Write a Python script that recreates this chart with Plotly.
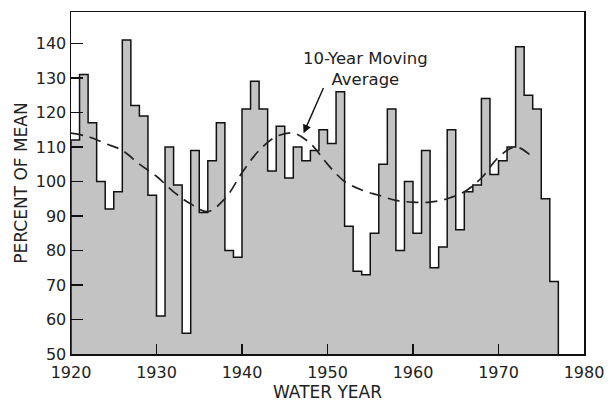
import plotly.graph_objects as go

# Water years (left edge of each annual bar) and percent of mean
years = list(range(1920, 1977))
percent = [112, 131, 117, 100, 92, 97, 141, 122, 119, 96,
           61, 110, 99, 56, 109, 91, 106, 117, 80, 78,
           121, 129, 121, 103, 116, 101, 110, 106, 109, 115,
           111, 126, 87, 74, 73, 85, 105, 121, 80, 100,
           85, 109, 75, 81, 115, 86, 97, 99, 124, 102,
           106, 110, 139, 125, 121, 95, 71]

# 10-year moving average
ma_years = [1920, 1922, 1924, 1926, 1928, 1930, 1932, 1934, 1936, 1938,
            1940, 1942, 1944, 1946, 1948, 1950, 1952, 1954, 1956, 1958,
            1960, 1962, 1964, 1966, 1968, 1970, 1972, 1974]
ma_values = [114, 113, 111, 109, 105, 101.5, 97, 93.5, 91.3, 95,
             102.5, 109, 113, 114, 111, 105, 100, 97.5, 96, 94.5,
             94, 94, 95, 97, 101, 107, 110, 107]

x_ticks = [1920, 1930, 1940, 1950, 1960, 1970, 1980]
y_ticks = [50, 60, 70, 80, 90, 100, 110, 120, 130, 140]

base = 50
end_year = years[-1] + 1
step_x = [years[0]] + years + [end_year, end_year]
step_y = [base] + percent + [percent[-1], base]

fig = go.Figure()
fig.add_trace(go.Scatter(
    x=step_x, y=step_y, mode="lines", line_shape="hv",
    line=dict(color="#111111", width=1.5),
    fill="toself", fillcolor="#c3c3c3",
    hoverinfo="skip", showlegend=False))
fig.add_trace(go.Scatter(
    x=ma_years, y=ma_values, mode="lines", line_shape="spline",
    line=dict(color="#222222", width=1.7, dash="12px,7px"),
    hoverinfo="skip", showlegend=False))

font = "DejaVu Sans, Liberation Sans, sans-serif"
fig.add_annotation(x=1954.5, y=132.6, xref="x", yref="y",
                   text="10-Year Moving<br>Average", showarrow=False,
                   font=dict(family=font, size=16.5, color="#222"), align="center")
fig.add_annotation(x=1947.2, y=114, xref="x", yref="y", text="",
                   showarrow=True, axref="x", ayref="y", ax=1949.6, ay=127.5,
                   arrowhead=2, arrowsize=1.2, arrowwidth=1.4, arrowcolor="#111")

fig.update_layout(
    width=613, height=402,
    margin=dict(l=71, r=29, t=12, b=48, autoexpand=False),
    paper_bgcolor="white", plot_bgcolor="white",
    font=dict(family=font, size=16, color="#222"),
    hovermode=False,
)
fig.update_xaxes(range=[1920, 1980], tickvals=x_ticks, ticks="inside",
                 ticklen=10, tickwidth=1.5, tickcolor="#111",
                 showline=True, linecolor="#111", linewidth=1.5, mirror=True,
                 showgrid=False, zeroline=False, automargin=False,
                 ticklabelstandoff=3,
                 title=dict(text="WATER YEAR", font=dict(size=17), standoff=2))
fig.update_yaxes(range=[50, 149.1], tickvals=y_ticks, ticks="inside",
                 ticklen=12, tickwidth=1.5, tickcolor="#111",
                 showline=True, linecolor="#111", linewidth=1.5, mirror=True,
                 showgrid=False, zeroline=False, automargin=False,
                 title=dict(text="PERCENT OF MEAN", font=dict(size=17), standoff=4))

fig.write_html("out.html",
               config={"displayModeBar": False, "staticPlot": True},
               post_script="document.body.style.margin='0';"
                           "document.body.style.overflow='hidden';")
